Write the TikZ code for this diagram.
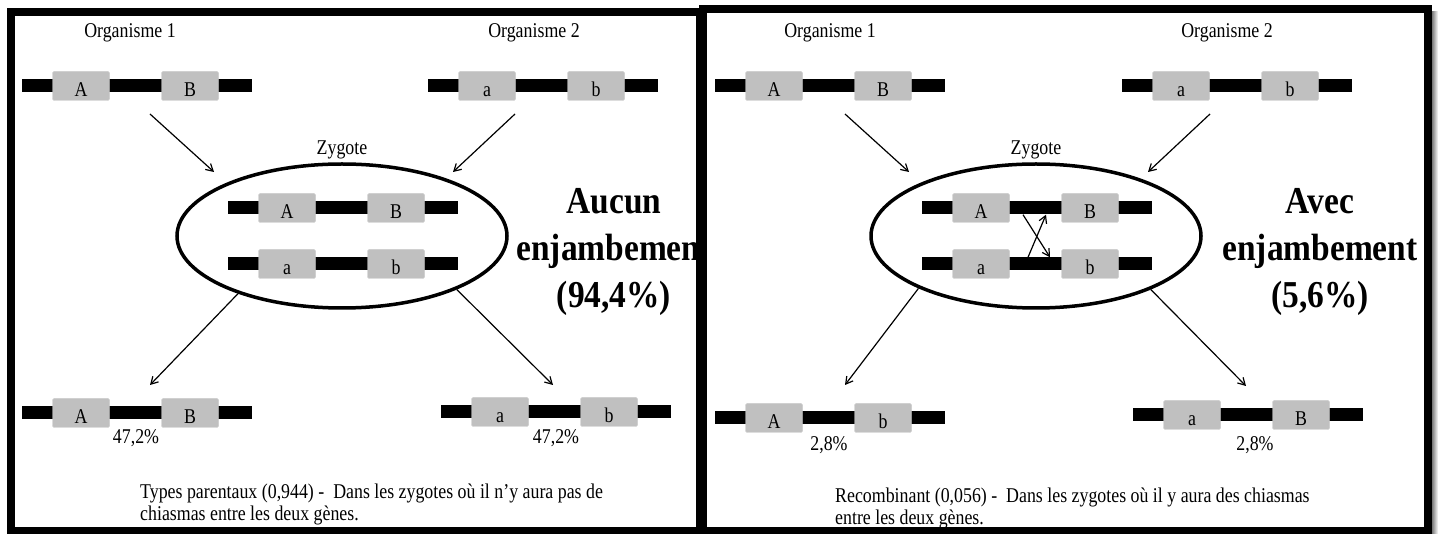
\documentclass[tikz,border=0pt]{standalone}
\usepackage{fontspec}
\setmainfont{Liberation Serif}[FakeStretch=0.85]
\newfontfamily\heavy{Liberation Serif Bold}[FakeStretch=0.88]
\usepackage{xcolor}
\usepackage{tikz}
\usetikzlibrary{arrows.meta,shapes.geometric}
\definecolor{geneg}{HTML}{C0C0C0}
\definecolor{shadowc}{HTML}{7A7A7A}
\newcommand{\txt}{\fontsize{21}{22}\selectfont}
\tikzset{
  bar/.style={fill=black,minimum width=230pt,minimum height=13pt,inner sep=0pt},
  gene/.style={fill=geneg,draw=geneg!85!white,rounded corners=1.5pt,minimum width=57pt,minimum height=29pt,
    inner sep=0pt,text height=21pt,text depth=0pt,font=\txt},
  arr/.style={-{Straight Barb[length=7pt,width=8pt]},line width=1.2pt},
  cell/.style={draw,ellipse,line width=3.5pt,minimum width=330pt,minimum height=144pt,inner sep=0pt},
  lbl/.style={inner sep=0pt,font=\txt},
  big/.style={align=center,inner sep=0pt,font=\heavy\fontsize{38}{47}\selectfont},
  note/.style={anchor=west,align=left,inner sep=0pt,font=\txt},
  panel/.style={draw=black,line width=8pt}
}
\newcommand{\chrom}[5]{\node[bar] (#1) at (#2+115,#3) {};
  \node[gene] (#1a) at (#2+59,#3) {#4};
  \node[gene] (#1b) at (#2+168,#3) {#5};}

\begin{document}
\begin{tikzpicture}[x=1pt,y=-1pt]
\useasboundingbox (0,0) rectangle (1438,534);
\fill[white] (0,0) rectangle (1438,534);
% parental types
\node[lbl] (oL1) at (130,33) {Organisme 1};
\node[lbl] (oL2) at (534,33) {Organisme 2};
\chrom{L1}{22}{86}{A}{B}
\chrom{L2}{428}{86}{a}{b}
\node[lbl] (zL) at (342,150) {Zygote};
\node[cell] (cL) at (342,236) {};
\chrom{L3}{228}{208}{A}{B}
\chrom{L4}{228}{264}{a}{b}
\node[big] (tL) at (614,252) {Aucun\\enjambement\\(94,4\%)};
\chrom{L5}{22}{413}{A}{B}
\chrom{L6}{441}{412}{a}{b}
\node[lbl] (pL5) at (136,438) {47,2\%};
\node[lbl] (pL6) at (556,438) {47,2\%};
\node[note] (nL) at (140,504) {Types parentaux (0,944) - \ Dans les zygotes où il n’y aura pas de\\chiasmas entre les deux gènes.};
\coordinate (sL1) at (150,114); \coordinate (eL1) at (214,172);
\coordinate (sL2) at (515,114); \coordinate (eL2) at (453,172);
\coordinate (eL5) at (150,385); \coordinate (eL6) at (553,385);
\foreach \s/\e in {sL1/eL1,sL2/eL2,cL.209/eL5,cL.335/eL6} \draw[arr] (\s) -- (\e);
\draw[panel] (11,12) rectangle (700,531);
% recombinants
\draw[panel,fill=white] (703,9) rectangle (1428,531);
\shade[left color=shadowc,right color=white] (1432,12) rectangle (1438,534);
\node[lbl] (oR1) at (830,33) {Organisme 1};
\node[lbl] (oR2) at (1227,33) {Organisme 2};
\chrom{R1}{715}{86}{A}{B}
\chrom{R2}{1122}{86}{a}{b}
\node[lbl] (zR) at (1036,150) {Zygote};
\node[cell] (cR) at (1036,236) {};
\chrom{R3}{922}{208}{A}{B}
\chrom{R4}{922}{264}{a}{b}
\draw[arr] (1023,0 |- R3.south) -- (1050,0 |- R4.north);
\draw[arr] (1028,0 |- R4.north) -- (1046,0 |- R3.south);
\node[big] (tR) at (1320,252) {Avec\\enjambement\\(5,6\%)};
\chrom{R5}{715}{418}{A}{b}
\chrom{R6}{1133}{415}{a}{B}
\node[lbl] (pR5) at (829,445) {2,8\%};
\node[lbl] (pR6) at (1255,445) {2,8\%};
\node[note] (nR) at (835,508) {Recombinant (0,056) - \ Dans les zygotes où il y aura des chiasmas\\entre les deux gènes.};
\coordinate (sR1) at (845,114); \coordinate (eR1) at (909,172);
\coordinate (sR2) at (1210,114); \coordinate (eR2) at (1148,172);
\coordinate (eR5) at (845,385); \coordinate (eR6) at (1246,386);
\foreach \s/\e in {sR1/eR1,sR2/eR2,cR.204/eR5,cR.335/eR6} \draw[arr] (\s) -- (\e);
\end{tikzpicture}
\end{document}
